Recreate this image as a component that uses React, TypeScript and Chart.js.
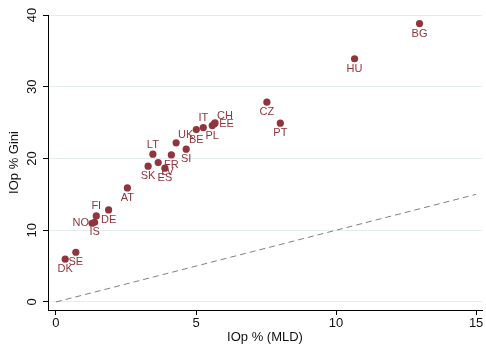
import React, { useEffect, useRef } from "react";
import { Chart, registerables } from "chart.js";

Chart.register(...registerables);

const countries = ["BG", "HU", "CZ", "PT", "DK", "SE", "NO", "IS", "FI", "DE", "AT", "SK", "LT", "LV", "ES", "FR", "UK", "SI", "BE", "IT", "PL", "EE", "CH"];
const iopMLD = [12.98, 10.66, 7.53, 8.01, 0.33, 0.71, 1.29, 1.38, 1.44, 1.88, 2.55, 3.29, 3.46, 3.65, 3.89, 4.12, 4.29, 4.65, 5.01, 5.26, 5.58, 5.65, 5.68];
const iopGini = [38.8, 33.9, 27.85, 24.92, 5.96, 6.93, 10.97, 11.1, 12.0, 12.83, 15.9, 18.93, 20.6, 19.43, 18.65, 20.5, 22.18, 21.3, 24.03, 24.31, 24.59, 24.83, 24.95];
// clock position of each country label
const labelClock = [6, 6, 6, 6, 6, 6, 9, 6, 12, 6, 6, 6, 12, 4, 6, 6, 1, 6, 6, 12, 6, 3, 1];

const equalityX = [0, 15];
const equalityY = [0, 15];

const xTicks = [0, 5, 10, 15];
const yTicks = [0, 10, 20, 30, 40];
const xTitle = "IOp % (MLD)";
const yTitle = "IOp % Gini";

const MARK = "#90353B";
const FONT = '"Liberation Sans", Arial, sans-serif';

export default function App() {
  const ref = useRef<HTMLCanvasElement | null>(null);

  useEffect(() => {
    document.body.style.margin = "0";
    const canvas = ref.current;
    if (!canvas) return;

    const textPlugin = {
      id: "texts",
      afterDraw(chart: any) {
        const ctx = chart.ctx;
        const xs = chart.scales.x;
        const ys = chart.scales.y;
        ctx.save();
        ctx.fillStyle = "#111";
        ctx.font = `13px ${FONT}`;
        ctx.textAlign = "center";
        ctx.textBaseline = "middle";
        xTicks.forEach((t) => {
          ctx.fillText(String(t), xs.getPixelForValue(t), 323.5);
        });
        ctx.fillText(xTitle, (chart.chartArea.left + chart.chartArea.right) / 2, 337.5);
        yTicks.forEach((t) => {
          ctx.save();
          ctx.translate(32.5, ys.getPixelForValue(t));
          ctx.rotate(-Math.PI / 2);
          ctx.fillText(String(t), 0, 0);
          ctx.restore();
        });
        ctx.save();
        ctx.translate(14.5, (chart.chartArea.top + chart.chartArea.bottom) / 2);
        ctx.rotate(-Math.PI / 2);
        ctx.fillText(yTitle, 0, 0);
        ctx.restore();

        // country labels
        ctx.fillStyle = MARK;
        ctx.font = `11px ${FONT}`;
        countries.forEach((c, i) => {
          const px = xs.getPixelForValue(iopMLD[i]);
          const py = ys.getPixelForValue(iopGini[i]);
          const pos = labelClock[i];
          let x = px, y = py, align: CanvasTextAlign = "center";
          if (pos === 6) { y = py + 10; }
          else if (pos === 12) { y = py - 9.5; }
          else if (pos === 3) { x = px + 5; align = "left"; }
          else if (pos === 9) { x = px - 3; align = "right"; }
          else if (pos === 1) { x = px + 2; y = py - 7.5; align = "left"; }
          else if (pos === 4) { x = px + 3; y = py + 9; align = "left"; }
          ctx.textAlign = align;
          ctx.fillText(c, x, y);
        });
        ctx.restore();
      },
    };

    const chart = new Chart(canvas, {
      type: "scatter",
      data: {
        datasets: [
          {
            label: "equality",
            data: equalityX.map((x, i) => ({ x, y: equalityY[i] })),
            showLine: true,
            borderColor: "#808080",
            borderWidth: 1,
            borderDash: [6, 4],
            pointRadius: 0,
            fill: false,
          },
          {
            label: "countries",
            data: countries.map((_, i) => ({ x: iopMLD[i], y: iopGini[i] })),
            backgroundColor: MARK,
            borderColor: MARK,
            borderWidth: 0,
            pointRadius: 3.6,
          },
        ],
      },
      options: {
        responsive: false,
        animation: false,
        layout: { padding: { top: 15, right: 1, left: 0, bottom: 0 } },
        plugins: { legend: { display: false }, tooltip: { enabled: false } },
        scales: {
          x: {
            type: "linear",
            min: -0.284,
            max: 15.21,
            afterBuildTicks: (s: any) => { s.ticks = xTicks.map((v) => ({ value: v })); },
            afterFit: (s: any) => { s.height = 39; },
            ticks: { display: false },
            grid: { drawOnChartArea: false, drawTicks: true, tickLength: 5, tickColor: "#000", color: "#000" },
            border: { display: true, color: "#000", width: 1 },
          },
          y: {
            type: "linear",
            min: -1.12,
            max: 40,
            afterBuildTicks: (s: any) => { s.ticks = yTicks.map((v) => ({ value: v })); },
            afterFit: (s: any) => { s.width = 48; },
            ticks: { display: false },
            grid: { drawOnChartArea: true, drawTicks: true, tickLength: 5, tickColor: "#000", color: "#e4ecee", lineWidth: 1 },
            border: { display: true, color: "#000", width: 1 },
          },
        },
      },
      plugins: [textPlugin],
    });
    return () => chart.destroy();
  }, []);

  return (
    <div style={{ width: 486, height: 349, background: "#fff" }}>
      <canvas ref={ref} width={486} height={349} style={{ display: "block" }} />
    </div>
  );
}
